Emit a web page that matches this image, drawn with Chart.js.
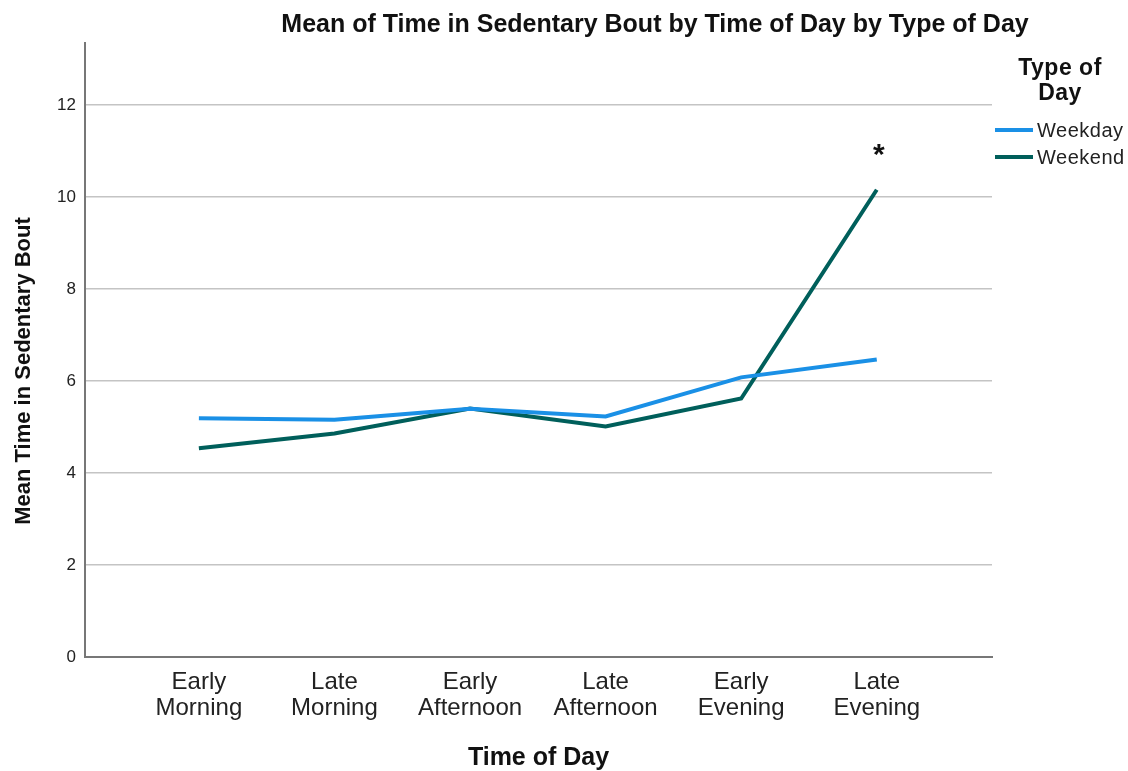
<!DOCTYPE html>
<html>
<head>
<meta charset="utf-8">
<script src="https://cdn.jsdelivr.net/npm/chart.js@4/dist/chart.umd.min.js"></script>
<style>
  html, body { margin: 0; padding: 0; background: #fff; }
  #wrap { width: 1128px; height: 771px; }
</style>
</head>
<body>
<div id="wrap"><canvas id="chart1"></canvas></div>
<script>
// categorias e valores
const timesOfDay = ['Early Morning', 'Late Morning', 'Early Afternoon', 'Late Afternoon', 'Early Evening', 'Late Evening'];
const weekday = [5.19, 5.16, 5.40, 5.23, 6.08, 6.47];
const weekend = [4.54, 4.86, 5.40, 5.01, 5.62, 10.16];
const yTicks = [0, 2, 4, 6, 8, 10, 12];
const seriesNames = ['Weekday', 'Weekend'];
const seriesColors = ['#1a90e6', '#005f5b'];

const FONT = '"Liberation Sans", Arial, sans-serif';

// textos desenhados à mão (título, eixos, legenda, asterisco)
const textPlugin = {
    id: 'textPlugin',
    afterDraw(chart) {
        const ctx = chart.ctx;
        const area = chart.chartArea;
        const xs = chart.scales.x;
        const ys = chart.scales.y;
        ctx.save();
        ctx.fillStyle = '#111';
        ctx.textAlign = 'center';
        ctx.textBaseline = 'middle';

        ctx.font = 'bold 25px ' + FONT;
        ctx.fillText('Mean of Time in Sedentary Bout by Time of Day by Type of Day', 655, 25);

        ctx.font = 'bold 25px ' + FONT;
        ctx.fillText('Time of Day', (area.left + area.right) / 2, 758);

        ctx.save();
        ctx.translate(24, 371);
        ctx.rotate(-Math.PI / 2);
        ctx.font = 'bold 22px ' + FONT;
        ctx.fillText('Mean Time in Sedentary Bout', 0, 0);
        ctx.restore();

        // asterisco acima do último ponto de fim de semana
        ctx.font = 'bold 30px ' + FONT;
        const last = weekend.length - 1;
        ctx.fillText('*', xs.getPixelForValue(last) + 2, ys.getPixelForValue(weekend[last]) - 34);

        // legenda
        ctx.font = 'bold 23px ' + FONT;
        ctx.letterSpacing = '0.5px';
        ctx.fillText('Type of', 1060, 69);
        ctx.fillText('Day', 1060, 94);
        ctx.font = '20px ' + FONT;
        ctx.textAlign = 'left';
        seriesNames.forEach((name, i) => {
            const y = 130 + i * 27;
            ctx.strokeStyle = seriesColors[i];
            ctx.lineWidth = 4;
            ctx.beginPath();
            ctx.moveTo(995, y);
            ctx.lineTo(1033, y);
            ctx.stroke();
            ctx.fillStyle = '#222';
            ctx.fillText(name, 1037, y + 1);
        });
        ctx.restore();
    }
};

function makeSeries(values) {
    return values.map((v, i) => ({ x: i, y: v }));
}

const ctx = document.getElementById('chart1').getContext('2d');
new Chart(ctx, {
    type: 'line',
    data: {
        datasets: [
            {
                label: seriesNames[0],
                data: makeSeries(weekday),
                borderColor: seriesColors[0],
                borderWidth: 4,
                pointRadius: 0,
                tension: 0
            },
            {
                label: seriesNames[1],
                data: makeSeries(weekend),
                borderColor: seriesColors[1],
                borderWidth: 4,
                pointRadius: 0,
                tension: 0
            }
        ]
    },
    options: {
        responsive: true,
        maintainAspectRatio: false,
        animation: false,
        layout: { padding: { top: 43, right: 136, left: 0, bottom: 0 } },
        plugins: {
            legend: { display: false },
            tooltip: { enabled: false }
        },
        scales: {
            x: {
                type: 'linear',
                min: -0.84,
                max: 5.85,
                afterFit: s => { s.height = 114; },
                afterBuildTicks: s => { s.ticks = timesOfDay.map((_, i) => ({ value: i })); },
                grid: { display: false, drawTicks: false },
                border: { display: true, color: '#777', width: 2 },
                ticks: {
                    padding: 13,
                    autoSkip: false,
                    maxRotation: 0,
                    color: '#222',
                    font: { family: FONT, size: 24, lineHeight: 1.06 },
                    callback: v => timesOfDay[v] ? timesOfDay[v].split(' ') : ''
                }
            },
            y: {
                min: 0,
                max: 13.35,
                afterFit: s => { s.width = 85; },
                afterBuildTicks: s => { s.ticks = yTicks.map(v => ({ value: v })); },
                grid: { color: '#c4c4c4', lineWidth: 1.5, drawTicks: false },
                border: { display: true, color: '#777', width: 2 },
                ticks: {
                    padding: 9,
                    color: '#222',
                    font: { family: FONT, size: 17 }
                }
            }
        }
    },
    plugins: [textPlugin]
});
</script>
</body>
</html>
